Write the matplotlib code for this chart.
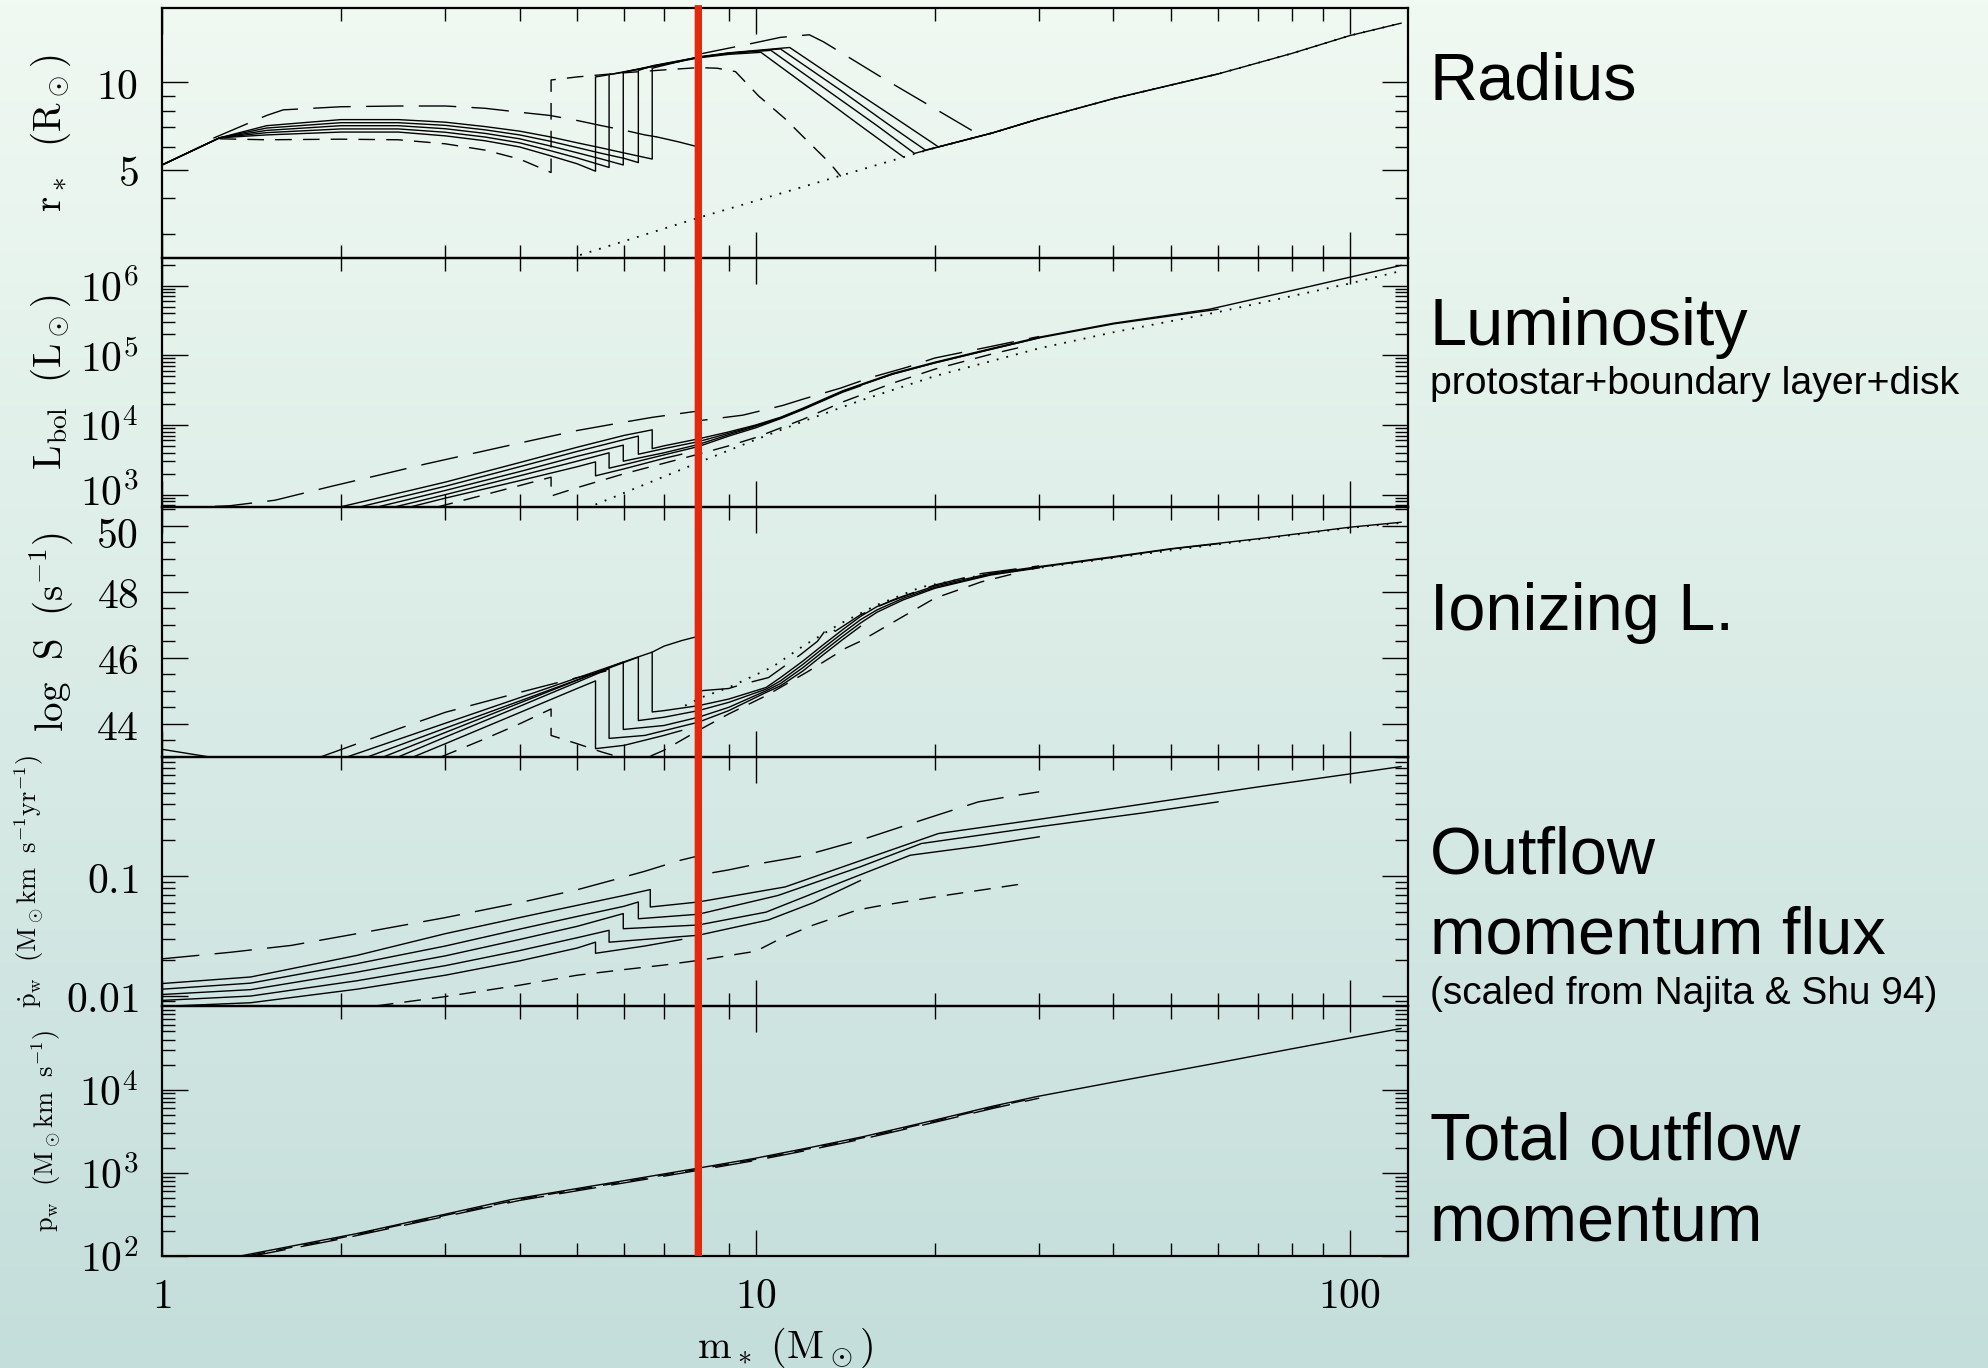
"""
Protostellar evolution against stellar mass: radius, luminosity,
ionizing luminosity, outflow momentum flux and total outflow momentum.
"""
import numpy as np
import matplotlib.pyplot as plt
from matplotlib.colors import LinearSegmentedColormap
from matplotlib.patches import ConnectionPatch
from matplotlib.transforms import ScaledTranslation
from matplotlib.ticker import FixedLocator, NullFormatter, LogLocator, MultipleLocator

plt.rcParams['mathtext.fontset'] = 'cm'

# stellar mass marked by the red line (M_sun)
red_mass = 8.0

# ---------------- Radius (R_sun) ----------------
rad_a_m = [1, 1.25, 1.5, 2, 2.5, 3, 3.5, 4, 4.5, 5, 5.37, 5.37, 6.0, 6.7, 7.5]
rad_a = [5.2, 6.45, 6.6, 6.75, 6.75, 6.55, 6.3, 6.0, 5.6, 5.25, 4.95, 10.45, 10.85, 11.35, 11.85]
rad_b_m = [1, 1.25, 1.5, 2, 2.5, 3, 3.5, 4, 4.5, 5, 5.66, 5.66, 6.7, 8, 9, 10.2, 12, 15, 17.7]
rad_b = [5.2, 6.45, 6.72, 6.92, 6.92, 6.74, 6.49, 6.2, 5.83, 5.5, 5.1, 10.65, 11.35, 12.15, 12.5, 12.7, 9.95, 7.1, 5.55]
rad_c_m = [1, 1.25, 1.5, 2, 2.5, 3, 3.5, 4, 4.5, 5, 5.5, 5.98, 5.98, 6.7, 8, 9, 10.6, 13, 16, 18.5, 20, 25, 30]
rad_c = [5.2, 6.45, 6.84, 7.1, 7.1, 6.93, 6.68, 6.4, 6.05, 5.73, 5.45, 5.2, 10.85, 11.4, 12.2, 12.6, 12.9, 9.6, 7.1, 5.7, 5.95, 6.7, 7.5]
rad_d_m = [1, 1.25, 1.5, 2, 2.5, 3, 3.5, 4, 4.5, 5, 5.5, 6.0, 6.34, 6.34, 6.7, 8, 9, 11.0, 14, 17, 19.3, 25, 30, 40, 50, 60]
rad_d = [5.2, 6.45, 6.97, 7.27, 7.27, 7.12, 6.87, 6.6, 6.28, 5.97, 5.7, 5.48, 5.3, 11.0, 11.42, 12.22, 12.62, 13.05, 9.3, 7.0, 5.85, 6.7, 7.5, 8.8, 9.8, 10.7]
rad_e_m = [1, 1.25, 1.5, 2, 2.5, 3, 3.5, 4, 4.5, 5, 5.5, 6.0, 6.69, 6.69, 8, 9, 11.4, 14, 17, 20.3, 25, 30, 40, 50, 60, 80, 100, 122]
rad_e = [5.2, 6.45, 7.1, 7.45, 7.45, 7.3, 7.05, 6.8, 6.5, 6.2, 5.95, 5.72, 5.45, 11.2, 12.25, 12.65, 13.2, 9.95, 7.65, 6.0, 6.7, 7.5, 8.8, 9.8, 10.7, 12.6, 14.5, 16.0]
rad_ld_m = [1.22, 1.5, 1.6, 2, 2.5, 3, 3.5, 4, 4.5, 5, 5.5, 6, 6.5, 6.8]
rad_ld = [6.43, 7.7, 8.05, 8.25, 8.3, 8.3, 8.15, 7.9, 7.7, 7.4, 7.1, 6.85, 6.6, 6.5]
rad_ld_tail_m = [6.8, 7.4, 8.0]
rad_ld_tail = [6.5, 6.25, 6.0]
rad_ld2_m = [8.0, 9.8, 11, 12.3, 13, 16.3, 23.5]
rad_ld2 = [12.5, 13.6, 14.3, 14.6, 13.8, 10.4, 6.7]
rad_sd_m = [1.25, 1.5, 2, 2.5, 3, 3.5, 4, 4.52, 4.52, 5, 6, 7, 8, 8.6, 9.24, 10.1, 11.2, 12.3, 13.3, 13.9]
rad_sd = [6.4, 6.35, 6.38, 6.35, 6.15, 5.85, 5.45, 4.9, 10.2, 10.45, 10.8, 11.05, 11.25, 11.2, 10.9, 9.0, 7.5, 6.2, 5.3, 4.75]
rad_zams_m = [4.7, 8, 14, 20, 25, 30, 40, 50, 60, 80, 100, 122]
rad_zams = [2.43, 3.42, 4.8, 5.95, 6.7, 7.5, 8.8, 9.8, 10.7, 12.6, 14.5, 16.0]

# ---------------- Luminosity (log10 L_sun) ----------------
lum_a_m = [2.5, 3, 4, 5, 5.37, 5.37, 6, 7, 7.5]
lum_a = [2.78, 2.95, 3.2, 3.4, 3.47, 3.27, 3.37, 3.52, 3.58]
lum_b_m = [2.35, 3, 4, 5, 5.66, 5.66, 6, 7, 8, 9, 10, 11, 12, 13, 14, 15]
lum_b = [2.78, 3.0, 3.27, 3.48, 3.6, 3.38, 3.43, 3.57, 3.69, 3.84, 3.96, 4.09, 4.22, 4.35, 4.47, 4.56]
lum_c_m = [2.2, 3, 4, 5, 5.98, 5.98, 7, 8, 9, 10, 11, 12, 13, 14, 15, 17, 20, 25, 30]
lum_c = [2.78, 3.06, 3.33, 3.55, 3.71, 3.48, 3.6, 3.72, 3.86, 3.98, 4.1, 4.23, 4.36, 4.48, 4.57, 4.73, 4.89, 5.09, 5.25]
lum_d_m = [2.05, 3, 4, 5, 6, 6.34, 6.34, 7, 8, 9, 10, 11, 12, 13, 14, 15, 17, 20, 25, 30, 40, 60]
lum_d = [2.78, 3.12, 3.4, 3.62, 3.79, 3.84, 3.58, 3.66, 3.76, 3.88, 3.99, 4.1, 4.23, 4.36, 4.48, 4.57, 4.73, 4.89, 5.09, 5.25, 5.45, 5.66]
lum_e_m = [1.9, 3, 4, 5, 6, 6.69, 6.69, 7, 8, 9, 10, 11, 12, 13, 14, 15, 17, 20, 25, 30, 40, 58, 80, 100, 122]
lum_e = [2.78, 3.18, 3.46, 3.68, 3.85, 3.93, 3.66, 3.7, 3.8, 3.9, 4.0, 4.11, 4.24, 4.37, 4.49, 4.58, 4.74, 4.9, 5.1, 5.26, 5.46, 5.66, 5.93, 6.12, 6.29]
lum_ld_m = [1.0, 1.3, 1.55, 1.93, 2.4, 2.78, 3.5, 4, 5, 6, 6.7, 8.0, 8.0, 9.5, 11.1, 12, 13.9, 15.6, 18, 20, 25, 30]
lum_ld = [2.8, 2.84, 2.92, 3.12, 3.31, 3.44, 3.63, 3.74, 3.92, 4.04, 4.11, 4.2, 4.06, 4.14, 4.28, 4.37, 4.53, 4.68, 4.83, 4.96, 5.13, 5.27]
lum_sd_m = [2.9, 3.5, 4.0, 4.52, 4.52, 5, 6, 7, 8, 9, 10, 12, 14, 17, 20, 25, 28.4]
lum_sd = [2.82, 3.0, 3.13, 3.25, 2.98, 3.1, 3.3, 3.45, 3.58, 3.7, 3.82, 4.08, 4.33, 4.6, 4.8, 5.02, 5.13]
lum_zams_m = [5.0, 8, 10, 12, 15, 20, 30, 40, 60, 80, 100, 122]
lum_zams = [2.75, 3.46, 3.79, 4.05, 4.35, 4.7, 5.1, 5.33, 5.62, 5.85, 6.03, 6.21]

# ---------------- Ionizing photon rate (log10 S, s^-1) ----------------
ion_a_m = [2.65, 3, 4, 5, 5.37, 5.37, 6.0, 7.0, 7.5]
ion_a = [43.0, 43.4, 44.34, 45.07, 45.3, 43.25, 43.35, 43.65, 43.8]
ion_b_m = [2.5, 3, 4, 5, 5.66, 5.66, 6.5, 8, 9, 10.4, 11, 12, 13, 14, 15]
ion_b = [43.0, 43.6, 44.53, 45.26, 45.67, 43.56, 43.65, 44.05, 44.4, 44.95, 45.15, 45.6, 46.1, 46.55, 46.95]
ion_c_m = [2.36, 3, 4, 5, 5.98, 5.98, 7, 8, 9, 10.4, 11, 12, 13, 14, 15, 16, 17.7, 20, 24.8, 30]
ion_c = [43.0, 43.74, 44.63, 45.32, 45.87, 43.83, 43.95, 44.2, 44.5, 45.0, 45.22, 45.7, 46.2, 46.65, 47.05, 47.38, 47.75, 48.1, 48.5, 48.72]
ion_d_m = [2.22, 3, 4, 5, 6, 6.34, 6.34, 7, 8, 9, 10.4, 11, 12, 13, 14, 15, 16, 17.7, 20, 24.8, 30, 40, 50, 60]
ion_d = [43.0, 43.87, 44.69, 45.33, 45.86, 46.02, 44.1, 44.2, 44.4, 44.65, 45.05, 45.3, 45.8, 46.3, 46.75, 47.15, 47.45, 47.8, 48.13, 48.52, 48.74, 49.04, 49.29, 49.45]
ion_e_m = [2.05, 3, 4, 5, 6, 6.69, 6.69, 7, 8, 9, 10.4, 11, 12, 13, 14, 15, 16, 17.7, 20, 24.8, 30, 40, 50, 70, 100, 122]
ion_e = [43.0, 44.02, 44.79, 45.39, 45.88, 46.17, 44.36, 44.4, 44.55, 44.75, 45.1, 45.4, 45.9, 46.4, 46.85, 47.25, 47.55, 47.85, 48.17, 48.55, 48.76, 49.06, 49.3, 49.6, 49.95, 50.1]
ion_start_m = [1.0, 1.2]
ion_start = [43.23, 43.0]
ion_ld_m = [1.85, 2.5, 3, 4, 5, 5.6]
ion_ld = [43.0, 43.85, 44.35, 44.95, 45.4, 45.6]
ion_ld_tail_m = [6.69, 7.0, 7.5, 8.0]
ion_ld_tail = [46.17, 46.35, 46.52, 46.65]
ion_ld2_m = [8.05, 9.0, 9.5, 10.5, 11.9, 12.7, 13.3, 13.6, 15, 17, 20, 24, 30]
ion_ld2 = [45.0, 45.07, 45.2, 45.4, 46.1, 46.5, 47.0, 46.8, 47.3, 47.75, 48.2, 48.55, 48.78]
ion_sd_m = [2.95, 3.5, 4.0, 4.52, 4.52, 5.0, 5.5, 6.0, 6.5, 7.0, 8.0, 9.0, 10.4, 12.2, 14.2, 15, 17.7, 20, 24, 28]
ion_sd = [43.0, 43.55, 44.0, 44.45, 43.65, 43.4, 43.15, 42.95, 42.95, 43.2, 43.8, 44.3, 44.85, 45.57, 46.3, 46.5, 47.25, 47.8, 48.3, 48.6]
ion_zams_m = [7.6, 8.1, 9, 10.66, 12, 13.9, 16, 19, 24, 30, 40, 60, 100, 122]
ion_zams = [44.55, 44.8, 45.1, 45.72, 46.35, 47.04, 47.6, 48.14, 48.5, 48.72, 49.02, 49.43, 49.93, 50.08]

# ---------------- Outflow momentum flux (M_sun km s^-1 yr^-1) ----------------
out_a_m = [1, 1.41, 2.13, 3, 4, 5, 5.37, 5.37, 6.5, 7.5]
out_a = [0.0081, 0.0087, 0.0113, 0.0148, 0.0195, 0.025, 0.028, 0.0226, 0.026, 0.0295]
out_b_m = [1, 1.41, 2.13, 3, 4, 5, 5.66, 5.66, 8, 10.5, 12.5, 15]
out_b = [0.0091, 0.0099, 0.0133, 0.0178, 0.0238, 0.0305, 0.0352, 0.028, 0.032, 0.043, 0.06, 0.092]
out_c_m = [1, 1.41, 2.13, 3, 4, 5, 5.98, 5.98, 8, 10.4, 14, 18.2, 24, 30]
out_c = [0.0102, 0.0112, 0.0157, 0.0215, 0.0295, 0.038, 0.0486, 0.0363, 0.039, 0.05, 0.09, 0.15, 0.18, 0.214]
out_d_m = [1, 1.41, 2.13, 3, 4, 5, 6, 6.34, 6.34, 8, 10.9, 15, 19, 30, 45, 60]
out_d = [0.0113, 0.0127, 0.0185, 0.026, 0.036, 0.046, 0.056, 0.0608, 0.044, 0.048, 0.069, 0.12, 0.188, 0.26, 0.34, 0.42]
out_e_m = [1, 1.41, 2.13, 3, 4, 5, 6, 6.64, 6.64, 8, 11.2, 15, 20.3, 30, 40, 70, 100, 122]
out_e = [0.0126, 0.0143, 0.0217, 0.033, 0.045, 0.057, 0.069, 0.0773, 0.0552, 0.0608, 0.0813, 0.135, 0.228, 0.3, 0.37, 0.56, 0.72, 0.83]
out_ld_m = [1.0, 1.3, 1.65, 2.13, 3, 4, 5, 5.73, 6.5, 7.46, 8.0, 8.0, 9, 10, 11.4, 12, 13, 15.3, 18, 20, 23.7, 27, 30]
out_ld = [0.0203, 0.023, 0.0263, 0.033, 0.045, 0.06, 0.077, 0.0925, 0.11, 0.136, 0.148, 0.102, 0.113, 0.126, 0.141, 0.148, 0.165, 0.207, 0.27, 0.32, 0.42, 0.47, 0.51]
out_sd_m = [2.3, 3, 4, 5, 6, 7, 8, 10, 11, 12.5, 14.8, 16, 20, 25, 28.4]
out_sd = [0.0082, 0.0098, 0.0122, 0.0148, 0.0165, 0.018, 0.0197, 0.0235, 0.03, 0.039, 0.052, 0.056, 0.067, 0.079, 0.087]

# ---------------- Total outflow momentum (M_sun km s^-1) ----------------
tot_m = [1.355, 2.13, 3, 3.86, 5, 6.5, 8, 10, 12.5, 15.2, 20, 25, 29.7, 40, 60, 80, 100, 122]
tot = [100, 186, 318, 474, 647, 885, 1138, 1500, 2050, 2730, 4300, 6300, 8240, 12300, 21000, 31000, 41700, 54300]
tot_ld_m = [1.4, 2, 3, 4, 5, 6.5, 8, 10, 12.5, 15.2, 20, 25, 30]
tot_ld = [98, 160, 299, 465, 608, 832, 1070, 1410, 1927, 2566, 4042, 5922, 7900]
tot_sd_m = [1.4, 2, 3, 4, 5, 6.5, 8, 10, 12.5, 15.2, 20, 25, 28.4]
tot_sd = [101, 165, 308, 480, 628, 858, 1104, 1455, 1990, 2650, 4170, 6110, 7455]

# line styles
SOLID = dict(color='black', lw=1.0, ls='-')
LDASH = dict(color='black', lw=1.0, ls=(0, (27, 11)))
SDASH = dict(color='black', lw=1.0, ls=(0, (12, 8)))
DOTS = dict(color='black', lw=1.3, ls=(0, (1, 4.5)))

fig = plt.figure(figsize=(19.88, 13.68), dpi=100)

# gradient backdrop
bg = fig.add_axes([0, 0, 1, 1], zorder=-10)
cmap = LinearSegmentedColormap.from_list('bg', ['#f0f9f2', '#c4dedb'])
bg.imshow(np.linspace(0, 1, 256)[:, None], cmap=cmap, aspect='auto', extent=[0, 1, 0, 1])
bg.axis('off')

axes = fig.subplots(5, 1, sharex=True,
                    gridspec_kw=dict(hspace=0, left=0.0815, right=0.7083,
                                     bottom=0.0819, top=0.9939))
ax_r, ax_l, ax_s, ax_o, ax_p = axes

minor_x = [2, 3, 4, 5, 6, 7, 8, 9, 20, 30, 40, 50, 60, 70, 80, 90]
for ax in axes:
    ax.set_facecolor('none')
    ax.set_xscale('log')
    ax.set_xlim(1, 125.4)
    for s in ax.spines.values():
        s.set_linewidth(1.6)
    ax.xaxis.set_major_locator(FixedLocator([1, 10, 100]))
    ax.xaxis.set_minor_locator(FixedLocator(minor_x))
    ax.xaxis.set_minor_formatter(NullFormatter())
    ax.tick_params(which='both', direction='in', top=True, right=True,
                   width=1.0, labelsize=30)
    ax.tick_params(which='major', length=19)
    ax.tick_params(which='minor', length=9.5)
    ax.tick_params(axis='y', pad=17)
    ax.tick_params(axis='x', pad=14)

# --- radius ---
for xs, ys in [(rad_a_m, rad_a), (rad_b_m, rad_b), (rad_c_m, rad_c),
               (rad_d_m, rad_d), (rad_e_m, rad_e), (rad_ld_tail_m, rad_ld_tail)]:
    ax_r.plot(xs, ys, **SOLID)
ax_r.plot(rad_ld_m, rad_ld, **LDASH)
ax_r.plot(rad_ld2_m, rad_ld2, **LDASH)
ax_r.plot(rad_sd_m, rad_sd, **SDASH)
ax_r.plot(rad_zams_m, rad_zams, **DOTS)
ax_r.set_yscale('log')
ax_r.set_ylim(2.49, 18.0)
ax_r.yaxis.set_major_locator(FixedLocator([5, 10]))
ax_r.yaxis.set_minor_locator(FixedLocator([3, 4, 6, 7, 8, 9]))
ax_r.set_yticklabels([r'$5$', r'$10$'])
ax_r.yaxis.set_minor_formatter(NullFormatter())

# --- luminosity ---
for xs, ys in [(lum_a_m, lum_a), (lum_b_m, lum_b), (lum_c_m, lum_c),
               (lum_d_m, lum_d), (lum_e_m, lum_e)]:
    ax_l.plot(xs, 10 ** np.array(ys), **SOLID)
ax_l.plot(lum_ld_m, 10 ** np.array(lum_ld), **LDASH)
ax_l.plot(lum_sd_m, 10 ** np.array(lum_sd), **SDASH)
ax_l.plot(lum_zams_m, 10 ** np.array(lum_zams), **DOTS)
ax_l.set_yscale('log')
ax_l.set_ylim(656, 2.5e6)
ax_l.yaxis.set_major_locator(FixedLocator([1e3, 1e4, 1e5, 1e6]))
ax_l.set_yticklabels([r'$10^{3}$', r'$10^{4}$', r'$10^{5}$', r'$10^{6}$'])
ax_l.yaxis.set_minor_locator(LogLocator(base=10, subs=np.arange(2, 10), numticks=50))
ax_l.yaxis.set_minor_formatter(NullFormatter())

# --- ionizing luminosity ---
for xs, ys in [(ion_a_m, ion_a), (ion_b_m, ion_b), (ion_c_m, ion_c),
               (ion_d_m, ion_d), (ion_e_m, ion_e), (ion_start_m, ion_start),
               (ion_ld_tail_m, ion_ld_tail)]:
    ax_s.plot(xs, ys, **SOLID)
ax_s.plot(ion_ld_m, ion_ld, **LDASH)
ax_s.plot(ion_ld2_m, ion_ld2, **LDASH)
ax_s.plot(ion_sd_m, ion_sd, **SDASH)
ax_s.plot(ion_zams_m, ion_zams, **DOTS)
ax_s.set_ylim(43.0, 50.55)
ax_s.yaxis.set_major_locator(FixedLocator([44, 46, 48, 50]))
ax_s.set_yticklabels([r'$44$', r'$46$', r'$48$', r'$50$'])
ax_s.yaxis.set_minor_locator(MultipleLocator(0.5))

# --- outflow momentum flux ---
for xs, ys in [(out_a_m, out_a), (out_b_m, out_b), (out_c_m, out_c),
               (out_d_m, out_d), (out_e_m, out_e)]:
    ax_o.plot(xs, ys, **SOLID)
ax_o.plot(out_ld_m, out_ld, **LDASH)
ax_o.plot(out_sd_m, out_sd, **SDASH)
ax_o.set_yscale('log')
ax_o.set_ylim(0.0081, 1.0)
ax_o.yaxis.set_major_locator(FixedLocator([0.01, 0.1]))
ax_o.set_yticklabels([r'$0.01$', r'$0.1$'])
ax_o.yaxis.set_minor_locator(LogLocator(base=10, subs=np.arange(2, 10), numticks=50))
ax_o.yaxis.set_minor_formatter(NullFormatter())

# --- total outflow momentum ---
ax_p.plot(tot_m, tot, **SOLID)
ax_p.plot(tot_ld_m, tot_ld, **LDASH)
ax_p.plot(tot_sd_m, tot_sd, **SDASH)
ax_p.set_yscale('log')
ax_p.set_ylim(100, 1e5)
ax_p.yaxis.set_major_locator(FixedLocator([1e2, 1e3, 1e4]))
ax_p.set_yticklabels([r'$10^{2}$', r'$10^{3}$', r'$10^{4}$'])
ax_p.yaxis.set_minor_locator(LogLocator(base=10, subs=np.arange(2, 10), numticks=50))
ax_p.yaxis.set_minor_formatter(NullFormatter())

ax_p.set_xticklabels([r'$1$', r'$10$', r'$100$'])
ax_p.set_xlabel(r'$\mathrm{m_*\ (M_\odot)}$', fontsize=29, labelpad=6)

# axis labels
ylabels = [
    (ax_r, r'$\mathrm{r_*\ \ (R_\odot)}$', 28, -0.089),
    (ax_l, r'$\mathrm{L_{bol}\ \ (L_\odot)}$', 28, -0.089),
    (ax_s, r'$\mathrm{log\ \ S\ \ (s^{-1})}$', 28, -0.089),
    (ax_o, r'$\mathrm{\dot{p}_w\ \ (M_\odot km\ \ s^{-1} yr^{-1})}$', 19, -0.107),
    (ax_p, r'$\mathrm{p_w\ \ (M_\odot km\ \ s^{-1})}$', 19, -0.093),
]
for ax, text, size, xpos in ylabels:
    ax.set_ylabel(text, fontsize=size, va='center')
    ax.yaxis.set_label_coords(xpos, 0.5)

# the 10^3 and 50 labels sit on either side of one panel border: ease them apart
lum_low = ax_l.yaxis.get_major_ticks()[0].label1
lum_low.set_transform(lum_low.get_transform() + ScaledTranslation(0, 4 / 72, fig.dpi_scale_trans))
ion_top = ax_s.yaxis.get_major_ticks()[3].label1
ion_top.set_transform(ion_top.get_transform() + ScaledTranslation(0, -4 / 72, fig.dpi_scale_trans))

# red marker line through all panels
con = ConnectionPatch(xyA=(red_mass, 0), coordsA=ax_p.get_xaxis_transform(),
                      xyB=(red_mass, 1.013), coordsB=ax_r.get_xaxis_transform(),
                      color='#e3290d', lw=5.3, zorder=20, capstyle='butt')
fig.add_artist(con)

# panel titles on the right
sans = 'Liberation Sans'
tx = 0.7193
fig.text(tx, 1 - 99 / 1368, 'Radius', fontsize=48, family=sans, va='baseline')
fig.text(tx, 1 - 345 / 1368, 'Luminosity', fontsize=48, family=sans, va='baseline')
fig.text(tx, 1 - 394 / 1368, 'protostar+boundary layer+disk', fontsize=28.3, family=sans, va='baseline')
fig.text(tx, 1 - 630 / 1368, 'Ionizing L.', fontsize=48, family=sans, va='baseline')
fig.text(tx, 1 - 873 / 1368, 'Outflow', fontsize=48, family=sans, va='baseline')
fig.text(tx, 1 - 954 / 1368, 'momentum flux', fontsize=48, family=sans, va='baseline')
fig.text(tx, 1 - 1004 / 1368, '(scaled from Najita & Shu 94)', fontsize=28, family=sans, va='baseline')
fig.text(tx, 1 - 1160 / 1368, 'Total outflow', fontsize=48, family=sans, va='baseline')
fig.text(tx, 1 - 1242 / 1368, 'momentum', fontsize=48, family=sans, va='baseline')

fig.savefig('out.png', dpi=100)
